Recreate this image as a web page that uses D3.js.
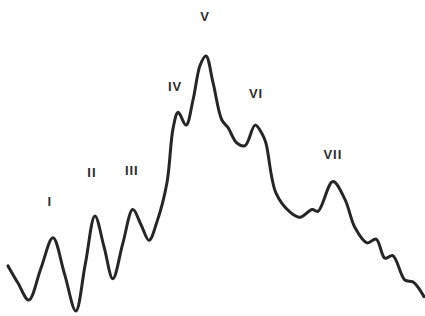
<!DOCTYPE html>
<html>
<head>
<meta charset="utf-8">
<script src="https://cdn.jsdelivr.net/npm/d3@7"></script>
<style>
  body { margin: 0; background: #fff; }
  svg { display: block; }
</style>
</head>
<body>
<div id="chart"></div>
<script>
// latency (ms) and amplitude (relative)
let latency = [0, 0.24, 0.50, 0.79, 1.08, 1.36, 1.63, 1.86, 2.09, 2.31, 2.52, 2.76, 3.00, 3.20,
  3.39, 3.58, 3.82, 3.97, 4.09, 4.28, 4.45, 4.62, 4.76, 4.93, 5.14, 5.29, 5.50, 5.70, 5.94,
  6.11, 6.20, 6.44, 6.78, 7.02, 7.31, 7.45, 7.81, 8.10, 8.34, 8.63, 8.85, 9.06, 9.25, 9.54,
  9.74, 10.0];
let amplitude = [0.18, 0.113, 0.047, 0.170, 0.29, 0.148, 0.004, 0.189, 0.375, 0.254, 0.13, 0.268,
  0.40, 0.340, 0.28, 0.352, 0.504, 0.719, 0.78, 0.73, 0.83, 0.965, 1.0, 0.895, 0.75, 0.72, 0.66,
  0.65, 0.73, 0.695, 0.66, 0.465, 0.39, 0.37, 0.40, 0.393, 0.51, 0.44, 0.33, 0.27, 0.285,
  0.21, 0.22, 0.125, 0.117, 0.06];

// peak labels and the sample they belong to
let peakNames = ["I", "II", "III", "IV", "V", "VI", "VII"];
let peakIndex = [4, 8, 12, 18, 22, 28, 36];

function waveChart() {
  let width = 425, height = 316;

  let svg = d3.select("#chart")
    .append("svg")
    .attr("width", width)
    .attr("height", height);

  let x = d3.scaleLinear()
    .domain([0, 10])
    .range([8, 424]);

  let y = d3.scaleLinear()
    .domain([0, 1])
    .range([312, 56]);

  let data = latency.map(function(t, i) { return {t: t, a: amplitude[i]}; });

  let line = d3.line()
    .x(function(d) { return x(d.t); })
    .y(function(d) { return y(d.a); })
    .curve(d3.curveCatmullRom.alpha(0.5));

  svg.append("path")
    .datum(data)
    .attr("fill", "none")
    .attr("stroke", "#262626")
    .attr("stroke-width", 3)
    .attr("stroke-linejoin", "round")
    .attr("stroke-linecap", "round")
    .attr("d", line);

  // gap between peak and its label
  let gap = [35, 42, 38, 25, 38, 31, 26];
  let shift = [-3, -3, -1, -3, -1, 1, 0];

  svg.append("g")
    .selectAll("text")
    .data(peakNames)
    .enter()
    .append("text")
      .attr("x", function(d, i) { return x(latency[peakIndex[i]]) + shift[i]; })
      .attr("y", function(d, i) { return y(amplitude[peakIndex[i]]) - gap[i]; })
      .attr("text-anchor", "middle")
      .attr("dominant-baseline", "middle")
      .attr("font-family", "Liberation Sans")
      .attr("font-weight", "bold")
      .attr("font-size", 13)
      .attr("letter-spacing", 1)
      .attr("fill", "#2e2e2e")
      .text(function(d) { return d; });
}

waveChart();
</script>
</body>
</html>
